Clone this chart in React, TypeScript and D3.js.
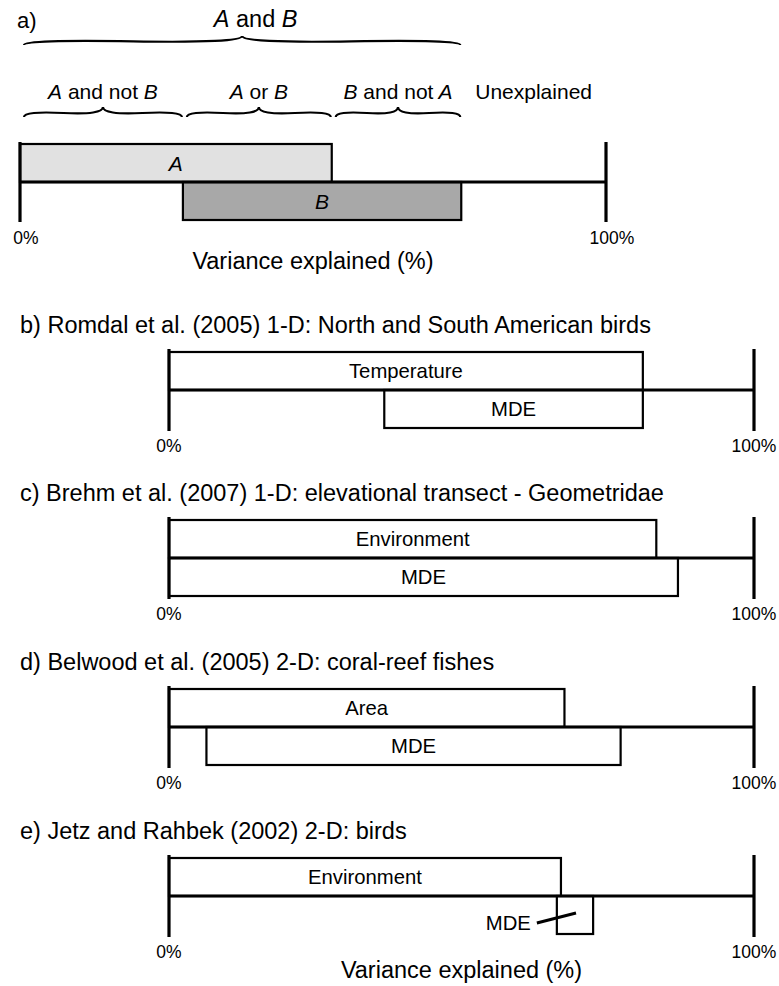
import React from "react";
import * as d3 from "d3";

const W = 779;
const H = 986;
const FONT = "'Liberation Sans', Arial, Helvetica, sans-serif";

// ---------- Panel a (schematic) ----------
const panelALabel = "a)";
const schematicLabels = ["A", "B"];
const schematicStart = [0, 27.8];
const schematicEnd = [53.2, 75.3];
const schematicFills = ["#e1e1e1", "#a8a8a8"];

const unionLabel = "A and B";
const unionStart = 0;
const unionEnd = 75.3;

const braceLabels = ["A and not B", "A or B", "B and not A"];
const braceStart = [0, 27.8, 53.2];
const braceEnd = [27.8, 53.2, 75.3];

const unexplainedLabel = "Unexplained";
const unexplainedStart = 75.3;
const unexplainedEnd = 100;

// ---------- shared axis ----------
const tickValues = [0, 100];
const tickLabels = ["0%", "100%"];
const axisTitle = "Variance explained (%)";

// ---------- Panels b-e (studies) ----------
const studyTitles = [
  "b) Romdal et al. (2005) 1-D: North and South American birds",
  "c) Brehm et al. (2007) 1-D: elevational transect - Geometridae",
  "d) Belwood et al. (2005) 2-D: coral-reef fishes",
  "e) Jetz and Rahbek (2002) 2-D: birds",
];
const envLabels = ["Temperature", "Environment", "Area", "Environment"];
const envStart = [0, 0, 0, 0];
const envEnd = [81.0, 83.3, 67.6, 67.0];
const mdeLabels = ["MDE", "MDE", "MDE", "MDE"];
const mdeStart = [36.8, 0, 6.4, 66.3];
const mdeEnd = [81.0, 87.0, 77.2, 72.5];

// ---------- helpers ----------
function italicize(label: string, key: string) {
  const words = label.split(" ");
  return words.map((w, i) => (
    <tspan key={key + i} fontStyle={w === "A" || w === "B" ? "italic" : "normal"}>
      {(i > 0 ? " " : "") + w}
    </tspan>
  ));
}

function bracePath(xl: number, xr: number, y: number, h: number, q = 0.6) {
  const len = xr - xl;
  const mid = (xl + xr) / 2;
  const p = d3.path();
  p.moveTo(xl, y);
  p.quadraticCurveTo(xl, y - q * h, xl + 0.25 * len, y - (1 - q) * h);
  // reflected control point (smooth continuation)
  p.quadraticCurveTo(mid, y - (2 * (1 - q) - q) * h + 0 * h, mid, y - h);
  p.moveTo(xr, y);
  p.quadraticCurveTo(xr, y - q * h, xr - 0.25 * len, y - (1 - q) * h);
  p.quadraticCurveTo(mid, y - (2 * (1 - q) - q) * h, mid, y - h);
  return p.toString();
}

const BAR_H = 38;
const LABEL_SIZE = 20.3;

export default function App() {
  // Panel a scale
  const xa = d3.scaleLinear().domain([0, 100]).range([20, 606]);
  const aAxisY = 182;

  // Panels b-e scale
  const xs = d3.scaleLinear().domain([0, 100]).range([169, 754]);
  const studyAxisY = [390, 558, 727, 896];

  const stroke = "#000";

  return (
    <svg
      width={W}
      height={H}
      viewBox={`0 0 ${W} ${H}`}
      style={{ position: "absolute", left: 0, top: 0, background: "#fff" }}
      fontFamily={FONT}
    >
      <rect x={0} y={0} width={W} height={H} fill="#fff" />

      {/* ---------------- Panel a ---------------- */}
      <text x={17} y={28} fontSize={22} fill="#000">{panelALabel}</text>

      {/* union brace */}
      <path
        d={bracePath(xa(unionStart) + 4, xa(unionEnd) - 1, 45, 9)}
        fill="none"
        stroke={stroke}
        strokeWidth={2.2}
      />
      <text x={(xa(unionStart) + xa(unionEnd)) / 2 + 15} y={27} fontSize={23.5} textAnchor="middle">
        {italicize(unionLabel, "u")}
      </text>

      {braceLabels.map((lab, i) => {
        const xl = xa(braceStart[i]) + 4;
        const xr = xa(braceEnd[i]) - 1;
        return (
          <g key={"br" + i}>
            <path d={bracePath(xl, xr, 117, 10)} fill="none" stroke={stroke} strokeWidth={2.2} />
            <text x={(xl + xr) / 2} y={99} fontSize={21} textAnchor="middle">
              {italicize(lab, "b" + i)}
            </text>
          </g>
        );
      })}
      <text
        x={(xa(unexplainedStart) + xa(unexplainedEnd)) / 2}
        y={99}
        fontSize={21}
        textAnchor="middle"
      >
        {unexplainedLabel}
      </text>

      {/* schematic bars */}
      {schematicLabels.map((lab, i) => {
        const y = i === 0 ? aAxisY - BAR_H : aAxisY;
        const x0 = xa(schematicStart[i]);
        const x1 = xa(schematicEnd[i]);
        return (
          <g key={"sb" + i}>
            <rect x={x0} y={y} width={x1 - x0} height={BAR_H} fill={schematicFills[i]} stroke={stroke} strokeWidth={2.2} />
            <text x={(x0 + x1) / 2} y={y + BAR_H / 2 + 8} fontSize={21} fontStyle="italic" textAnchor="middle">
              {lab}
            </text>
          </g>
        );
      })}
      <line x1={xa(0)} x2={xa(100)} y1={aAxisY} y2={aAxisY} stroke={stroke} strokeWidth={2.8} />
      {tickValues.map((t, i) => (
        <g key={"ta" + i}>
          <line x1={xa(t)} x2={xa(t)} y1={aAxisY - 40} y2={aAxisY + 40} stroke={stroke} strokeWidth={3.2} />
          <text x={xa(t) + 6} y={aAxisY + 62} fontSize={17.5} textAnchor="middle">{tickLabels[i]}</text>
        </g>
      ))}
      <text x={(xa(0) + xa(100)) / 2} y={269} fontSize={23.5} textAnchor="middle">{axisTitle}</text>

      {/* ---------------- Panels b-e ---------------- */}
      {studyTitles.map((title, i) => {
        const ay = studyAxisY[i];
        const ex0 = xs(envStart[i]);
        const ex1 = xs(envEnd[i]);
        const mx0 = xs(mdeStart[i]);
        const mx1 = xs(mdeEnd[i]);
        const mdeNarrow = mx1 - mx0 < 60;
        const mdeCx = (mx0 + mx1) / 2;
        const mdeCy = ay + BAR_H / 2;
        return (
          <g key={"p" + i}>
            <text x={20} y={ay - 57} fontSize={23.5}>{title}</text>
            <rect x={ex0} y={ay - BAR_H} width={ex1 - ex0} height={BAR_H} fill="#fff" stroke={stroke} strokeWidth={2.2} />
            <text x={(ex0 + ex1) / 2} y={ay - BAR_H / 2 + 7.3} fontSize={LABEL_SIZE} textAnchor="middle">
              {envLabels[i]}
            </text>
            <rect x={mx0} y={ay} width={mx1 - mx0} height={BAR_H} fill="#fff" stroke={stroke} strokeWidth={2.2} />
            {mdeNarrow ? (
              <g>
                <line x1={mx0 - 20} y1={mdeCy + 8} x2={mdeCx + 1} y2={mdeCy - 2} stroke={stroke} strokeWidth={3} />
                <text x={mx0 - 26} y={mdeCy + 15} fontSize={LABEL_SIZE} textAnchor="end">{mdeLabels[i]}</text>
              </g>
            ) : (
              <text x={(mx0 + mx1) / 2} y={ay + BAR_H / 2 + 7.3} fontSize={LABEL_SIZE} textAnchor="middle">
                {mdeLabels[i]}
              </text>
            )}
            <line x1={xs(0)} x2={xs(100)} y1={ay} y2={ay} stroke={stroke} strokeWidth={2.8} />
            {tickValues.map((t, j) => (
              <g key={"t" + i + j}>
                <line x1={xs(t)} x2={xs(t)} y1={ay - 41} y2={ay + 41} stroke={stroke} strokeWidth={3.2} />
                <text x={xs(t)} y={ay + 62} fontSize={17.5} textAnchor="middle">{tickLabels[j]}</text>
              </g>
            ))}
            {i === studyTitles.length - 1 && (
              <text x={(xs(0) + xs(100)) / 2} y={ay + 82} fontSize={23.5} textAnchor="middle">{axisTitle}</text>
            )}
          </g>
        );
      })}
    </svg>
  );
}
